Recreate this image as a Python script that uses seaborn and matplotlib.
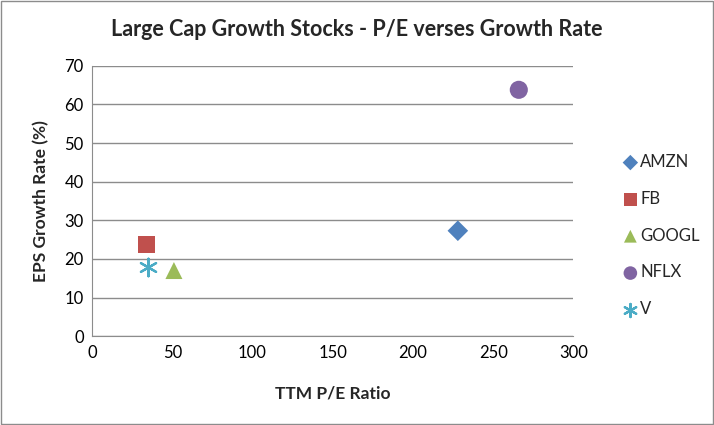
import pandas as pd
import matplotlib.pyplot as plt
import seaborn as sns

# ---------------- Data ----------------
tickers = ["AMZN", "FB", "GOOGL", "NFLX", "V"]
pe_ratio = [228, 34, 51, 266, 35]
eps_growth = [27.3, 23.7, 17.0, 63.8, 18.0]

colors = ["#4F81BD", "#C0504D", "#9BBB59", "#8064A2", "#4BACC6"]
markers = ["D", "s", "^", "o", (6, 2, 0)]

df = pd.DataFrame({"Ticker": tickers, "PE": pe_ratio, "Growth": eps_growth})

# ---------------- Plot ----------------
sns.set_style("white")
plt.rcParams["font.family"] = ["Lato", "DejaVu Sans"]

fig = plt.figure(figsize=(7.14, 4.25), dpi=100)
ax = fig.add_axes([0.129, 0.209, 0.674, 0.636])

palette = dict(zip(tickers, colors))
marker_map = dict(zip(tickers, markers))
sizes = {"AMZN": 110, "FB": 150, "GOOGL": 150, "NFLX": 170, "V": 160}

for t in tickers:
    sub = df[df["Ticker"] == t]
    sns.scatterplot(data=sub, x="PE", y="Growth", ax=ax, color=palette[t],
                    marker=marker_map[t], s=sizes[t], label=t,
                    linewidth=1.6 if t == "V" else 0,
                    edgecolor=palette[t] if t == "V" else "none", zorder=3)

ax.set_xlim(0, 300)
ax.set_ylim(0, 70)
ax.set_xticks(range(0, 301, 50))
ax.set_yticks(range(0, 71, 10))
ax.yaxis.grid(True, color="#8C8C8C", linewidth=1)
ax.xaxis.grid(False)
for side in ["top", "right"]:
    ax.spines[side].set_visible(False)
for side in ["left", "bottom"]:
    ax.spines[side].set_color("#8C8C8C")
ax.tick_params(labelsize=12, colors="black", length=0, pad=6)

ax.set_xlabel("TTM P/E Ratio", fontsize=12.5, fontweight="bold", labelpad=18)
ax.set_ylabel("EPS Growth Rate (%)", fontsize=12.5, fontweight="bold", labelpad=11)
fig.suptitle("Large Cap Growth Stocks - P/E verses Growth Rate",
             fontsize=15.5, fontweight="bold", y=0.955)

leg = ax.legend(loc="center left", bbox_to_anchor=(1.07, 0.372), frameon=False,
                fontsize=12, handletextpad=0.1, labelspacing=1.25,
                markerscale=0.75, handlelength=1.0)

# chart border
fig.patches.append(plt.Rectangle((0.001, 0.002), 0.997, 0.995, transform=fig.transFigure,
                                 fill=False, edgecolor="#8C8C8C", linewidth=1))

fig.savefig("out.png", dpi=100)
